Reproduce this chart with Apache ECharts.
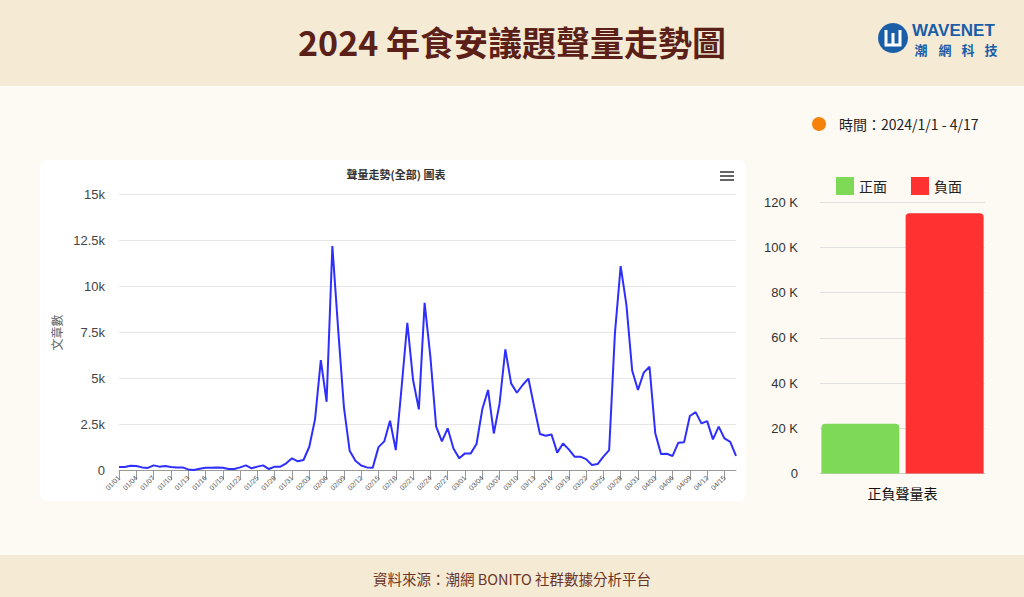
<!DOCTYPE html>
<html>
<head>
<meta charset="utf-8">
<script src="https://cdn.jsdelivr.net/npm/echarts@6/dist/echarts.min.js"></script>
<style>
html,body{margin:0;padding:0;background:#fdfaf4;}
#main{width:1024px;height:597px;}
</style>
</head>
<body>
<div id="main"></div>
<script>
var dates = ['01/01','01/02','01/03','01/04','01/05','01/06','01/07','01/08','01/09','01/10','01/11','01/12','01/13','01/14','01/15','01/16','01/17','01/18','01/19','01/20','01/21','01/22','01/23','01/24','01/25','01/26','01/27','01/28','01/29','01/30','01/31',
'02/01','02/02','02/03','02/04','02/05','02/06','02/07','02/08','02/09','02/10','02/11','02/12','02/13','02/14','02/15','02/16','02/17','02/18','02/19','02/20','02/21','02/22','02/23','02/24','02/25','02/26','02/27','02/28','02/29',
'03/01','03/02','03/03','03/04','03/05','03/06','03/07','03/08','03/09','03/10','03/11','03/12','03/13','03/14','03/15','03/16','03/17','03/18','03/19','03/20','03/21','03/22','03/23','03/24','03/25','03/26','03/27','03/28','03/29','03/30','03/31',
'04/01','04/02','04/03','04/04','04/05','04/06','04/07','04/08','04/09','04/10','04/11','04/12','04/13','04/14','04/15','04/16','04/17'];

var volume = [200,200,270,250,180,150,290,220,250,200,180,180,70,40,110,160,160,180,160,90,90,180,290,130,220,290,90,220,220,400,670,510,580,
1300,2800,6000,3740,12190,7700,3470,1080,540,280,180,160,1280,1590,2710,1120,4500,8030,4920,3330,9110,6180,2390,1590,2300,1210,670,940,940,1450,3330,4380,2020,3650,6580,4740,4230,4650,5000,3470,
1990,1900,1970,980,1480,1160,760,760,630,310,360,760,1120,7450,11100,8990,5420,4380,5320,5640,2030,900,920,800,1520,1550,2970,3180,2570,2690,1700,2390,1750,1570,800];

var sentimentCategories = ['正負聲量表'];
var positive = [22000];
var negative = [115000];

var lineYTicks = {0:'0',2500:'2.5k',5000:'5k',7500:'7.5k',10000:'10k',12500:'12.5k',15000:'15k'};
var barYTicks = {0:'0',20000:'20 K',40000:'40 K',60000:'60 K',80000:'80 K',100000:'100 K',120000:'120 K'};

var chart = echarts.init(document.getElementById('main'), null, {renderer:'svg'});
var sans = "'Noto Sans CJK TC','Noto Sans','Liberation Sans',sans-serif";
var option = {
  backgroundColor:'#fdfaf4',
  animation:false,
  textStyle:{fontFamily:sans},
  graphic:[
    {type:'rect', z:-10, shape:{x:0,y:0,width:1024,height:86}, style:{fill:'#f5ebd5'}},
    {type:'rect', z:-10, shape:{x:0,y:555,width:1024,height:42}, style:{fill:'#f5ebd5'}},
    {type:'rect', z:-10, shape:{x:40,y:160,width:706,height:341,r:8}, style:{fill:'#ffffff'}},
    // logo
    {type:'circle', shape:{cx:893,cy:38,r:15}, style:{fill:'#1b5ea8'}},
    {type:'polyline', shape:{points:[[886,30],[886,45],[900,45],[900,30]]}, style:{stroke:'#ffffff',lineWidth:3,fill:null}},
    {type:'line', shape:{x1:893,y1:33,x2:893,y2:45}, style:{stroke:'#ffffff',lineWidth:3}},
    {type:'text', style:{x:912,y:30,text:'WAVENET',fill:'#1b5ea8',font:"bold 17px 'Liberation Sans',sans-serif",textVerticalAlign:'middle'}},
    {type:'text', style:{x:921,y:49,text:'潮',fill:'#1b5ea8',font:"bold 13px 'Noto Sans CJK TC',sans-serif",textAlign:'center',textVerticalAlign:'middle'}},
    {type:'text', style:{x:945,y:49,text:'網',fill:'#1b5ea8',font:"bold 13px 'Noto Sans CJK TC',sans-serif",textAlign:'center',textVerticalAlign:'middle'}},
    {type:'text', style:{x:968,y:49,text:'科',fill:'#1b5ea8',font:"bold 13px 'Noto Sans CJK TC',sans-serif",textAlign:'center',textVerticalAlign:'middle'}},
    {type:'text', style:{x:991,y:49,text:'技',fill:'#1b5ea8',font:"bold 13px 'Noto Sans CJK TC',sans-serif",textAlign:'center',textVerticalAlign:'middle'}},
    // time label
    {type:'circle', shape:{cx:819,cy:124,r:7}, style:{fill:'#f5820b'}},
    {type:'text', style:{x:839,y:124,text:'時間：2024/1/1 - 4/17',fill:'#222222',font:"14px 'Noto Sans CJK TC',sans-serif",textVerticalAlign:'middle'}},
    // menu icon
    {type:'rect', shape:{x:720,y:171,width:14,height:2}, style:{fill:'#666666'}},
    {type:'rect', shape:{x:720,y:175,width:14,height:2}, style:{fill:'#666666'}},
    {type:'rect', shape:{x:720,y:179,width:14,height:2}, style:{fill:'#666666'}},
    // footer
    {type:'text', style:{x:512,y:578,text:'資料來源：潮網 BONITO 社群數據分析平台',fill:'#6b3424',font:"14.5px 'Noto Sans CJK TC',sans-serif",textAlign:'center',textVerticalAlign:'middle'}}
  ],
  title:[
    {text:'2024 年食安議題聲量走勢圖', left:'center', top:19, textStyle:{fontSize:34,fontWeight:'bold',color:'#5b2118',fontFamily:sans}},
    {text:'聲量走勢(全部) 圖表', left:391, textAlign:'center', top:163, textStyle:{fontSize:11,fontWeight:'bold',color:'#333333',fontFamily:sans}}
  ],
  legend:{data:['正面','負面'], left:831, top:172, icon:'rect', itemWidth:18, itemHeight:18, itemGap:24,
    textStyle:{fontSize:14,color:'#222222',fontFamily:sans}},
  grid:[
    {left:119, right:288, top:194.3, bottom:126.3},
    {left:820, right:39, top:202, bottom:123.5}
  ],
  xAxis:[
    {type:'category', gridIndex:0, data:dates, boundaryGap:false,
      axisLine:{lineStyle:{color:'#999999'}},
      axisTick:{interval:2, length:9, lineStyle:{color:'#999999'}},
      axisLabel:{interval:2, rotate:45, fontSize:7, color:'#555555', margin:6, fontFamily:"'Liberation Sans',sans-serif"}},
    {type:'category', gridIndex:1, data:sentimentCategories,
      axisLine:{lineStyle:{color:'#cccccc'}}, axisTick:{show:false},
      axisLabel:{fontSize:14, color:'#111111', margin:12}}
  ],
  yAxis:[
    {type:'value', gridIndex:0, min:0, max:15000, interval:2500,
      name:'文章數', nameLocation:'middle', nameGap:55, nameRotate:90,
      nameTextStyle:{fontSize:12,color:'#666666'},
      axisLabel:{formatter:function(v){return lineYTicks[v];}, fontSize:13, color:'#444444', margin:14, fontFamily:"'Liberation Sans',sans-serif"},
      splitLine:{lineStyle:{color:'#e6e6e6'}}},
    {type:'value', gridIndex:1, min:0, max:120000, interval:20000,
      axisLabel:{formatter:function(v){return barYTicks[v];}, fontSize:13, color:'#333333', margin:22, fontFamily:"'Liberation Sans',sans-serif"},
      splitLine:{lineStyle:{color:'#e0e0e0'}}}
  ],
  series:[
    {name:'聲量', type:'line', xAxisIndex:0, yAxisIndex:0, data:volume, showSymbol:false, symbol:'none',
      lineStyle:{color:'#2e2eff', width:2}, itemStyle:{color:'#2e2eff'}},
    {name:'正面', type:'bar', xAxisIndex:1, yAxisIndex:1, data:positive, barWidth:78, barGap:'8%',
      itemStyle:{color:'#7ed957', borderRadius:[4,4,0,0]}},
    {name:'負面', type:'bar', xAxisIndex:1, yAxisIndex:1, data:negative, barWidth:78, barGap:'8%',
      itemStyle:{color:'#ff3131', borderRadius:[4,4,0,0]}}
  ]
};
chart.setOption(option);
</script>
</body>
</html>
